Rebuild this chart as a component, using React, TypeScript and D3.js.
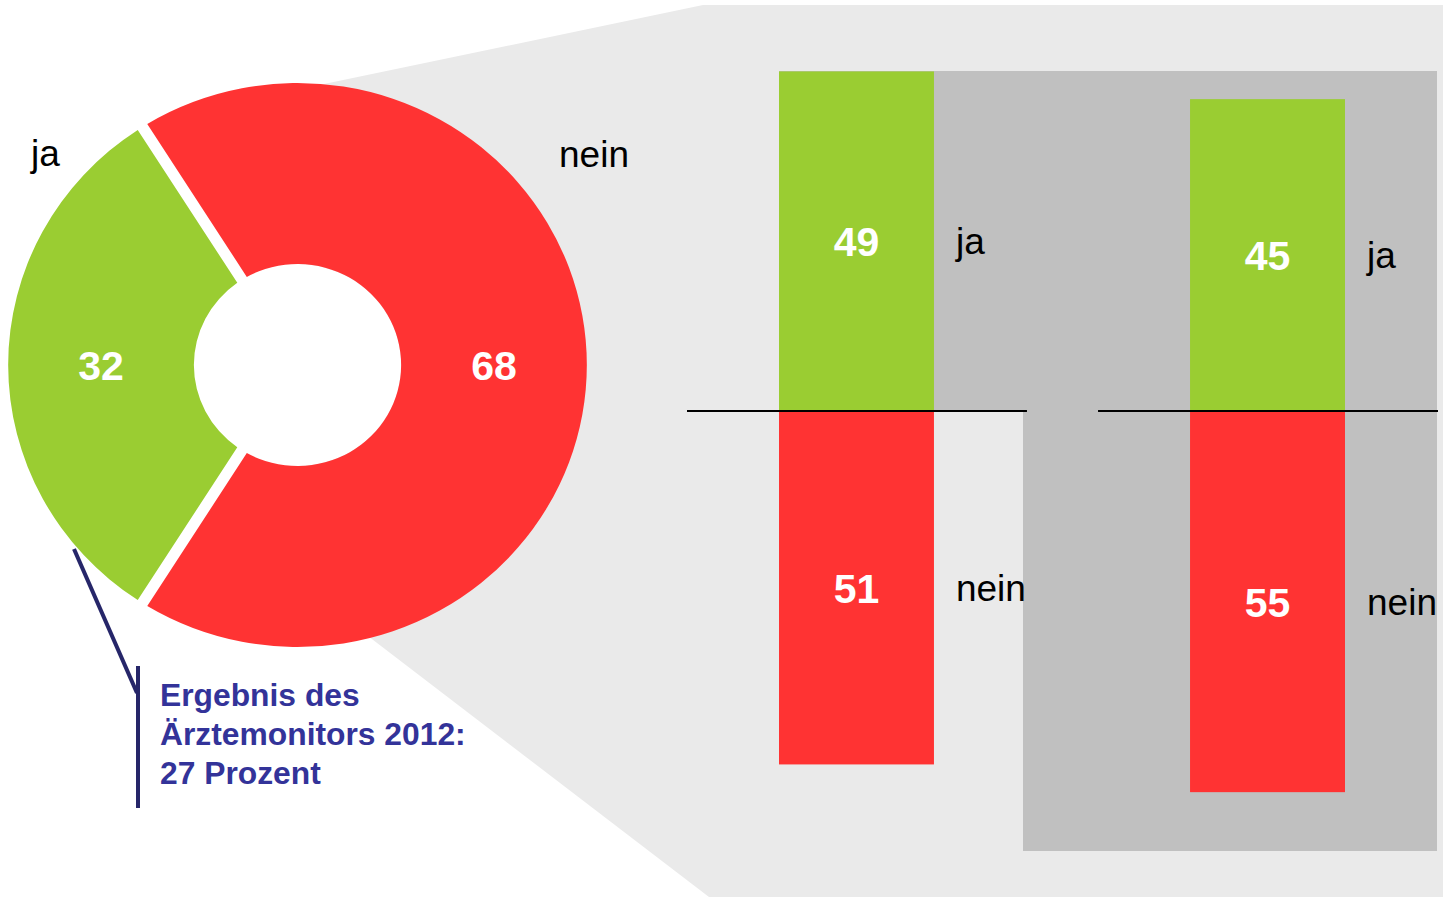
import React from 'react';
import * as d3 from 'd3';

// Donut: Ergebnis gesamt
const donutLabels = ['ja', 'nein'];
const donutValues = [32, 68];
const donutColors = ['#9ACD32', '#FF3333'];

// Balken: zwei Untergruppen
const barGroups = ['gruppe1', 'gruppe2'];
const jaValues = [49, 45];
const neinValues = [51, 55];

const noteLines = ['Ergebnis des', 'Ärztemonitors 2012:', '27 Prozent'];

const W = 1443;
const H = 897;
const FONT = '"Liberation Sans", Arial, Helvetica, sans-serif';

const App: React.FC = () => {
  // donut geometry
  const cx = 297.5;
  const cy = 365;
  const sx = 1.026;
  const outerR = 282;
  const innerR = 101;

  const pie = d3.pie<number>()
    .sort(null)
    .startAngle(1.5 * Math.PI - (donutValues[0] / 100) * Math.PI)
    .endAngle(3.5 * Math.PI - (donutValues[0] / 100) * Math.PI);
  const arcs = pie(donutValues);
  const arc = d3.arc<d3.PieArcDatum<number>>()
    .innerRadius(innerR)
    .outerRadius(outerR)
    .padRadius(100)
    .padAngle(0.11);

  // bars
  const xScale = d3.scaleBand()
    .domain(barGroups)
    .range([779, 1345])
    .paddingInner(0.623)
    .paddingOuter(0);
  const yScale = d3.scaleLinear()
    .domain([-100, 100])
    .range([411 + 693, 411 - 693]);
  const bw = xScale.bandwidth();
  const y0 = yScale(0);

  return (
    <svg width={W} height={H} style={{ position: 'absolute', left: 0, top: 0, display: 'block', background: '#fff' }}>
      {/* zoom background */}
      <polygon
        points="300,89 703,5 1443,5 1443,897 709,897 300,584"
        fill="#EAEAEA"
      />
      <polygon
        points="779,71 1437,71 1437,851 1023,851 1023,411 779,411"
        fill="#C0C0C0"
      />

      {/* donut */}
      <ellipse cx={cx} cy={cy} rx={innerR * sx} ry={innerR} fill="#fff" />
      <g transform={`translate(${cx},${cy}) scale(${sx},1)`}>
        {arcs.map((a, i) => (
          <path key={i} d={arc(a) || ''} fill={donutColors[i]} />
        ))}
      </g>
      {arcs.map((a, i) => {
        const [px, py] = arc.centroid(a);
        return (
          <text key={i} x={cx + px * sx} y={cy + py + 15} textAnchor="middle"
            fontFamily={FONT} fontWeight="bold" fontSize={41} fill="#fff">
            {donutValues[i]}
          </text>
        );
      })}
      <text x={31} y={166} fontFamily={FONT} fontSize={37} fill="#000">{donutLabels[0]}</text>
      <text x={559} y={167} fontFamily={FONT} fontSize={37} fill="#000">{donutLabels[1]}</text>

      {/* annotation */}
      <line x1={74} y1={549} x2={137} y2={693} stroke="#262669" strokeWidth={4} />
      <line x1={138} y1={666} x2={138} y2={808} stroke="#262669" strokeWidth={4} />
      {noteLines.map((t, i) => (
        <text key={i} x={160} y={706 + i * 39} fontFamily={FONT} fontWeight="bold"
          fontSize={31.8} fill="#333399">{t}</text>
      ))}

      {/* bars */}
      {barGroups.map((g, i) => {
        const x = xScale(g) || 0;
        const yJa = yScale(jaValues[i]);
        const yNein = yScale(-neinValues[i]);
        const midJa = (yJa + y0) / 2;
        const midNein = (yNein + y0) / 2;
        return (
          <g key={g}>
            <rect x={x} y={yJa} width={bw} height={y0 - yJa} fill="#9ACD32" />
            <rect x={x} y={y0} width={bw} height={yNein - y0} fill="#FF3333" />
            <line x1={x - 92} x2={x + bw + 93} y1={y0} y2={y0} stroke="#000" strokeWidth={2} />
            <text x={x + bw / 2} y={midJa + 15} textAnchor="middle" fontFamily={FONT}
              fontWeight="bold" fontSize={41} fill="#fff">{jaValues[i]}</text>
            <text x={x + bw / 2} y={midNein + 15} textAnchor="middle" fontFamily={FONT}
              fontWeight="bold" fontSize={41} fill="#fff">{neinValues[i]}</text>
            <text x={x + bw + 22} y={midJa + 13} fontFamily={FONT} fontSize={37} fill="#000">ja</text>
            <text x={x + bw + 22} y={midNein + 13} fontFamily={FONT} fontSize={37} fill="#000">nein</text>
          </g>
        );
      })}
    </svg>
  );
};

export default App;
